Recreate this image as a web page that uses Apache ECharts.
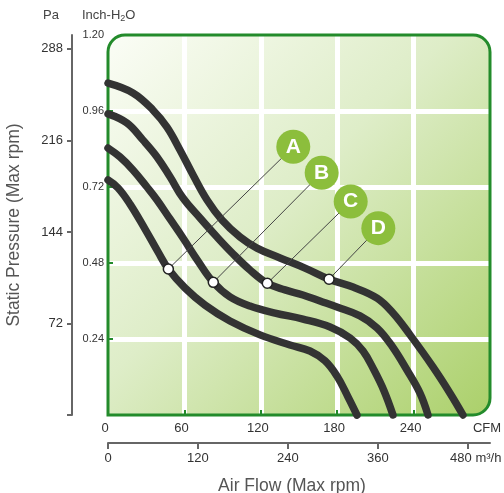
<!DOCTYPE html>
<html><head><meta charset="utf-8">
<script src="https://cdn.jsdelivr.net/npm/echarts@6/dist/echarts.min.js"></script>
<style>html,body{margin:0;padding:0;background:#fff}#c{width:504px;height:493px}</style>
</head><body><div id="c"></div>
<script>
// ---- data (CFM, inch H2O) ----
const curveA = [[0,0.742],[7.9,0.717],[17.3,0.666],[29.1,0.587],[39.3,0.515],[47.4,0.461],[60.5,0.401],[76.2,0.347],[95.8,0.297],[119.4,0.253],[142.9,0.221],[158.6,0.202],[170.4,0.171],[179.8,0.123],[188.5,0.057],[195.5,0]];
const curveB = [[0,0.843],[9.4,0.815],[19.6,0.774],[30.6,0.720],[38.5,0.679],[48.7,0.619],[58.9,0.559],[70.7,0.486],[82.7,0.419],[95.8,0.373],[111.5,0.344],[131.2,0.322],[153.1,0.303],[174.4,0.278],[190.1,0.243],[200.3,0.202],[208.9,0.142],[216.8,0.076],[223.8,0]];
const curveC = [[0,0.951],[14.9,0.922],[27.5,0.868],[38.5,0.815],[48.7,0.752],[58.9,0.685],[72.3,0.622],[85.6,0.562],[97.4,0.512],[111.5,0.458],[125.1,0.416],[139.0,0.395],[153.1,0.379],[166.5,0.360],[179.8,0.341],[197.9,0.313],[211.3,0.275],[223.0,0.218],[234.8,0.142],[245.0,0.069],[251.3,0]];
const curveD = [[0,1.048],[19.6,1.017],[35.3,0.963],[46.3,0.909],[56.5,0.837],[66.8,0.758],[77.8,0.679],[89.5,0.616],[103.7,0.562],[117.0,0.527],[135.1,0.496],[154.7,0.464],[173.6,0.429],[192.4,0.404],[211.3,0.369],[223.8,0.322],[237.2,0.253],[255.2,0.152],[268.6,0.069],[278.8,0]];
const markerNames = ['A','B','C','D'];
const markerX = [47.4, 82.7, 125.1, 173.6];
const markerY = [0.461, 0.419, 0.416, 0.429];
const calloutX = [145.5, 167.8, 190.6, 212.3];
const calloutY = [0.847, 0.765, 0.674, 0.590];
const cfmTicks = [0,60,120,180,240,300];
const m3hTicks = [0,120,240,360,480];
const inchTicks = [0.24,0.48,0.72,0.96,1.20];
const paTicks = [72,144,216,288];
const CFM_MAX = 300, INCH_MAX = 1.2;
const M3H_PER_CFM = 1.699, PA_PER_INCH = 249.09;

const FONT = 'Liberation Sans, Arial, sans-serif';
const G = {left:108, top:35, width:382, height:380};
const green = '#238b2b';
const chart = echarts.init(document.getElementById('c'), null, {renderer:'canvas'});
const curves = [curveA, curveB, curveC, curveD];

chart.setOption({
  animation:false,
  textStyle:{fontFamily:FONT},
  grid:{left:G.left, top:G.top, width:G.width, height:G.height, containLabel:false, outerBoundsMode:'none'},
  graphic:[
    {type:'rect', z:-10, shape:{x:G.left,y:G.top,width:G.width,height:G.height,r:[17,17,17,0]},
     style:{fill:new echarts.graphic.LinearGradient(0,0,1,1,[{offset:0,color:'#fbfdf6'},{offset:0.45,color:'#deedc8'},{offset:1,color:'#abd06a'}]), stroke:null}},
    {type:'rect', z:1, shape:{x:G.left,y:G.top,width:G.width,height:G.height,r:[17,17,17,0]},
     style:{fill:null, stroke:green, lineWidth:3}},
    {type:'text', left:43, top:9, style:{text:'Pa', fontSize:13, fill:'#444', fontFamily:FONT}},
    {type:'text', left:82, top:9, style:{text:'{a|Inch-H}{b|2}{a|O}', fill:'#444', fontFamily:FONT,
      rich:{a:{fontSize:13, fill:'#444'}, b:{fontSize:9, fill:'#444', padding:[6,0,0,0]}}}}
  ],
  xAxis:[
    {type:'value', min:0, max:CFM_MAX, interval:60, position:'bottom',
     axisLine:{show:false, onZero:false},
     axisTick:{show:true, inside:true, length:5, customValues:[60,120,180,240], lineStyle:{color:green, width:2}},
     axisLabel:{customValues:cfmTicks, margin:7, fontSize:13, color:'#333', padding:[0,6,0,0],
       formatter:v=> v===CFM_MAX ? 'CFM' : String(v)},
     splitLine:{show:true, lineStyle:{color:'#ffffff', width:5}}},
    {type:'value', min:0, max:CFM_MAX*M3H_PER_CFM, position:'bottom', offset:28,
     name:'Air Flow (Max rpm)', nameLocation:'middle', nameGap:34,
     nameTextStyle:{fontSize:17.5, color:'#555', padding:[0,14,0,0]},
     axisLine:{show:true, onZero:false, lineStyle:{color:'#666', width:2}},
     axisTick:{show:true, length:6, customValues:m3hTicks, lineStyle:{color:'#666', width:2}},
     axisLabel:{customValues:m3hTicks, margin:9, fontSize:13, color:'#333',
       formatter:v=> v===480 ? '{r|480 m³/h}' : String(v),
       rich:{r:{fontSize:13, color:'#333', padding:[0,0,0,16]}}},
     splitLine:{show:false}}
  ],
  yAxis:[
    {type:'value', min:0, max:INCH_MAX, interval:0.24, position:'left',
     axisLine:{show:false, onZero:false},
     axisTick:{show:true, inside:true, length:5, customValues:[0.24,0.48,0.72,0.96], lineStyle:{color:green, width:2}},
     axisLabel:{customValues:inchTicks, margin:4, fontSize:11, color:'#333', formatter:v=>v.toFixed(2)},
     splitLine:{show:true, lineStyle:{color:'#ffffff', width:5}}},
    {type:'value', min:0, max:INCH_MAX*PA_PER_INCH, position:'left', offset:36,
     name:'Static Pressure (Max rpm)', nameLocation:'middle', nameGap:49,
     nameTextStyle:{fontSize:17.5, color:'#555'},
     axisLine:{show:true, onZero:false, lineStyle:{color:'#666', width:2}},
     axisTick:{show:true, length:5, customValues:[0].concat(paTicks), lineStyle:{color:'#666', width:2}},
     axisLabel:{customValues:paTicks, margin:9, fontSize:13, color:'#333'},
     splitLine:{show:false}}
  ],
  series:[
    ...curves.map((c,i)=>({type:'line', name:markerNames[i], data:c, smooth:0.4, showSymbol:false, symbol:'none', clip:false, z:3,
      lineStyle:{color:'#333333', width:7.5, cap:'round', join:'round'}})),
    {type:'lines', coordinateSystem:'cartesian2d', z:4, silent:true,
     data:markerNames.map((n,i)=>({coords:[[markerX[i],markerY[i]],[calloutX[i],calloutY[i]]]})),
     lineStyle:{color:'#444', width:1, opacity:1}},
    {type:'scatter', z:5, symbol:'circle', symbolSize:10, data:markerNames.map((n,i)=>[markerX[i],markerY[i]]),
     itemStyle:{color:'#ffffff', borderColor:'#222', borderWidth:1.5, opacity:1}},
    {type:'scatter', z:6, symbol:'circle', symbolSize:34,
     data:markerNames.map((n,i)=>({name:n, value:[calloutX[i],calloutY[i]]})),
     itemStyle:{color:'#8cbe3c', opacity:1},
     label:{show:true, position:'inside', formatter:p=>p.name, fontSize:21, fontWeight:'bold', color:'#fff', fontFamily:FONT}}
  ]
});
</script></body></html>
